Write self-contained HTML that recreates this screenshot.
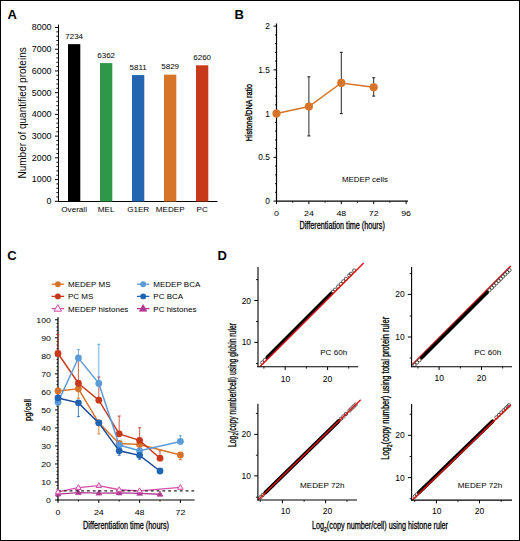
<!DOCTYPE html>
<html><head><meta charset="utf-8"><style>
html,body{margin:0;padding:0;background:#fff;}
#fig{position:relative;width:518px;height:539px;border:1px solid #000;overflow:hidden;background:#fff;}
svg{position:absolute;left:-1px;top:-1px;}
text{font-family:"Liberation Sans", sans-serif;}
</style></head><body>
<div id="fig"><svg width="520" height="541" viewBox="0 0 520 541">
<text x="7.40" y="18.50" font-size="13" text-anchor="start" fill="#000" font-weight="bold" >A</text>
<line x1="58.50" y1="24.60" x2="58.50" y2="202.00" stroke="#000" stroke-width="1.0" />
<line x1="58.00" y1="201.50" x2="217.50" y2="201.50" stroke="#000" stroke-width="1.0" />
<line x1="55.00" y1="201.30" x2="58.50" y2="201.30" stroke="#000" stroke-width="1" />
<g transform="translate(51.6 204.20) scale(1.04 1)"><text x="0" y="0" font-size="8.6" text-anchor="end">0</text></g>
<line x1="56.30" y1="196.96" x2="58.50" y2="196.96" stroke="#000" stroke-width="0.9" />
<line x1="56.30" y1="192.61" x2="58.50" y2="192.61" stroke="#000" stroke-width="0.9" />
<line x1="56.30" y1="188.27" x2="58.50" y2="188.27" stroke="#000" stroke-width="0.9" />
<line x1="56.30" y1="183.92" x2="58.50" y2="183.92" stroke="#000" stroke-width="0.9" />
<line x1="55.00" y1="179.58" x2="58.50" y2="179.58" stroke="#000" stroke-width="1" />
<g transform="translate(51.6 182.48) scale(1.04 1)"><text x="0" y="0" font-size="8.6" text-anchor="end">1000</text></g>
<line x1="56.30" y1="175.23" x2="58.50" y2="175.23" stroke="#000" stroke-width="0.9" />
<line x1="56.30" y1="170.89" x2="58.50" y2="170.89" stroke="#000" stroke-width="0.9" />
<line x1="56.30" y1="166.54" x2="58.50" y2="166.54" stroke="#000" stroke-width="0.9" />
<line x1="56.30" y1="162.19" x2="58.50" y2="162.19" stroke="#000" stroke-width="0.9" />
<line x1="55.00" y1="157.85" x2="58.50" y2="157.85" stroke="#000" stroke-width="1" />
<g transform="translate(51.6 160.75) scale(1.04 1)"><text x="0" y="0" font-size="8.6" text-anchor="end">2000</text></g>
<line x1="56.30" y1="153.50" x2="58.50" y2="153.50" stroke="#000" stroke-width="0.9" />
<line x1="56.30" y1="149.16" x2="58.50" y2="149.16" stroke="#000" stroke-width="0.9" />
<line x1="56.30" y1="144.81" x2="58.50" y2="144.81" stroke="#000" stroke-width="0.9" />
<line x1="56.30" y1="140.47" x2="58.50" y2="140.47" stroke="#000" stroke-width="0.9" />
<line x1="55.00" y1="136.12" x2="58.50" y2="136.12" stroke="#000" stroke-width="1" />
<g transform="translate(51.6 139.03) scale(1.04 1)"><text x="0" y="0" font-size="8.6" text-anchor="end">3000</text></g>
<line x1="56.30" y1="131.78" x2="58.50" y2="131.78" stroke="#000" stroke-width="0.9" />
<line x1="56.30" y1="127.44" x2="58.50" y2="127.44" stroke="#000" stroke-width="0.9" />
<line x1="56.30" y1="123.09" x2="58.50" y2="123.09" stroke="#000" stroke-width="0.9" />
<line x1="56.30" y1="118.75" x2="58.50" y2="118.75" stroke="#000" stroke-width="0.9" />
<line x1="55.00" y1="114.40" x2="58.50" y2="114.40" stroke="#000" stroke-width="1" />
<g transform="translate(51.6 117.30) scale(1.04 1)"><text x="0" y="0" font-size="8.6" text-anchor="end">4000</text></g>
<line x1="56.30" y1="110.06" x2="58.50" y2="110.06" stroke="#000" stroke-width="0.9" />
<line x1="56.30" y1="105.71" x2="58.50" y2="105.71" stroke="#000" stroke-width="0.9" />
<line x1="56.30" y1="101.37" x2="58.50" y2="101.37" stroke="#000" stroke-width="0.9" />
<line x1="56.30" y1="97.02" x2="58.50" y2="97.02" stroke="#000" stroke-width="0.9" />
<line x1="55.00" y1="92.68" x2="58.50" y2="92.68" stroke="#000" stroke-width="1" />
<g transform="translate(51.6 95.58) scale(1.04 1)"><text x="0" y="0" font-size="8.6" text-anchor="end">5000</text></g>
<line x1="56.30" y1="88.33" x2="58.50" y2="88.33" stroke="#000" stroke-width="0.9" />
<line x1="56.30" y1="83.98" x2="58.50" y2="83.98" stroke="#000" stroke-width="0.9" />
<line x1="56.30" y1="79.64" x2="58.50" y2="79.64" stroke="#000" stroke-width="0.9" />
<line x1="56.30" y1="75.30" x2="58.50" y2="75.30" stroke="#000" stroke-width="0.9" />
<line x1="55.00" y1="70.95" x2="58.50" y2="70.95" stroke="#000" stroke-width="1" />
<g transform="translate(51.6 73.85) scale(1.04 1)"><text x="0" y="0" font-size="8.6" text-anchor="end">6000</text></g>
<line x1="56.30" y1="66.60" x2="58.50" y2="66.60" stroke="#000" stroke-width="0.9" />
<line x1="56.30" y1="62.26" x2="58.50" y2="62.26" stroke="#000" stroke-width="0.9" />
<line x1="56.30" y1="57.91" x2="58.50" y2="57.91" stroke="#000" stroke-width="0.9" />
<line x1="56.30" y1="53.57" x2="58.50" y2="53.57" stroke="#000" stroke-width="0.9" />
<line x1="55.00" y1="49.22" x2="58.50" y2="49.22" stroke="#000" stroke-width="1" />
<g transform="translate(51.6 52.12) scale(1.04 1)"><text x="0" y="0" font-size="8.6" text-anchor="end">7000</text></g>
<line x1="56.30" y1="44.88" x2="58.50" y2="44.88" stroke="#000" stroke-width="0.9" />
<line x1="56.30" y1="40.53" x2="58.50" y2="40.53" stroke="#000" stroke-width="0.9" />
<line x1="56.30" y1="36.19" x2="58.50" y2="36.19" stroke="#000" stroke-width="0.9" />
<line x1="56.30" y1="31.84" x2="58.50" y2="31.84" stroke="#000" stroke-width="0.9" />
<line x1="55.00" y1="27.50" x2="58.50" y2="27.50" stroke="#000" stroke-width="1" />
<g transform="translate(51.6 30.40) scale(1.04 1)"><text x="0" y="0" font-size="8.6" text-anchor="end">8000</text></g>
<rect x="68" y="44.14" width="12.3" height="157.36" fill="#000000"/>
<text x="74.15" y="38.74" font-size="8" text-anchor="middle" fill="#000" >7234</text>
<text x="74.15" y="212.10" font-size="8.1" text-anchor="middle" fill="#000" >Overall</text>
<rect x="100" y="63.09" width="12.3" height="138.41" fill="#2f9848"/>
<text x="106.15" y="57.69" font-size="8" text-anchor="middle" fill="#000" >6362</text>
<text x="106.15" y="212.10" font-size="8.1" text-anchor="middle" fill="#000" >MEL</text>
<rect x="132" y="75.06" width="12.3" height="126.44" fill="#2467b0"/>
<text x="138.15" y="69.66" font-size="8" text-anchor="middle" fill="#000" >5811</text>
<text x="138.15" y="212.10" font-size="8.1" text-anchor="middle" fill="#000" >G1ER</text>
<rect x="164" y="74.66" width="12.3" height="126.84" fill="#d6742a"/>
<text x="170.15" y="69.26" font-size="8" text-anchor="middle" fill="#000" >5829</text>
<text x="170.15" y="212.10" font-size="8.1" text-anchor="middle" fill="#000" >MEDEP</text>
<rect x="196" y="65.30" width="12.3" height="136.20" fill="#c8391b"/>
<text x="202.15" y="59.90" font-size="8" text-anchor="middle" fill="#000" >6260</text>
<text x="202.15" y="212.10" font-size="8.1" text-anchor="middle" fill="#000" >PC</text>
<text x="25.70" y="112.90" font-size="10" text-anchor="middle" fill="#000" transform="rotate(-90 25.70 112.90)" >Number of quantified proteins</text>
<text x="234.40" y="18.50" font-size="13" text-anchor="start" fill="#000" font-weight="bold" >B</text>
<line x1="276.50" y1="23.50" x2="276.50" y2="201.70" stroke="#000" stroke-width="1.2" />
<line x1="275.90" y1="201.10" x2="408.00" y2="201.10" stroke="#000" stroke-width="1.2" />
<line x1="273.50" y1="201.10" x2="276.50" y2="201.10" stroke="#000" stroke-width="1" />
<text x="269.80" y="204.10" font-size="8.3" text-anchor="end" fill="#000" >0</text>
<line x1="275.00" y1="192.35" x2="276.50" y2="192.35" stroke="#000" stroke-width="0.9" />
<line x1="275.00" y1="183.60" x2="276.50" y2="183.60" stroke="#000" stroke-width="0.9" />
<line x1="275.00" y1="174.85" x2="276.50" y2="174.85" stroke="#000" stroke-width="0.9" />
<line x1="275.00" y1="166.10" x2="276.50" y2="166.10" stroke="#000" stroke-width="0.9" />
<line x1="273.50" y1="157.35" x2="276.50" y2="157.35" stroke="#000" stroke-width="1" />
<text x="269.80" y="160.35" font-size="8.3" text-anchor="end" fill="#000" >0.5</text>
<line x1="275.00" y1="148.60" x2="276.50" y2="148.60" stroke="#000" stroke-width="0.9" />
<line x1="275.00" y1="139.85" x2="276.50" y2="139.85" stroke="#000" stroke-width="0.9" />
<line x1="275.00" y1="131.10" x2="276.50" y2="131.10" stroke="#000" stroke-width="0.9" />
<line x1="275.00" y1="122.35" x2="276.50" y2="122.35" stroke="#000" stroke-width="0.9" />
<line x1="273.50" y1="113.60" x2="276.50" y2="113.60" stroke="#000" stroke-width="1" />
<text x="269.80" y="116.60" font-size="8.3" text-anchor="end" fill="#000" >1</text>
<line x1="275.00" y1="104.85" x2="276.50" y2="104.85" stroke="#000" stroke-width="0.9" />
<line x1="275.00" y1="96.10" x2="276.50" y2="96.10" stroke="#000" stroke-width="0.9" />
<line x1="275.00" y1="87.35" x2="276.50" y2="87.35" stroke="#000" stroke-width="0.9" />
<line x1="275.00" y1="78.60" x2="276.50" y2="78.60" stroke="#000" stroke-width="0.9" />
<line x1="273.50" y1="69.85" x2="276.50" y2="69.85" stroke="#000" stroke-width="1" />
<text x="269.80" y="72.85" font-size="8.3" text-anchor="end" fill="#000" >1.5</text>
<line x1="275.00" y1="61.10" x2="276.50" y2="61.10" stroke="#000" stroke-width="0.9" />
<line x1="275.00" y1="52.35" x2="276.50" y2="52.35" stroke="#000" stroke-width="0.9" />
<line x1="275.00" y1="43.60" x2="276.50" y2="43.60" stroke="#000" stroke-width="0.9" />
<line x1="275.00" y1="34.85" x2="276.50" y2="34.85" stroke="#000" stroke-width="0.9" />
<line x1="273.50" y1="26.10" x2="276.50" y2="26.10" stroke="#000" stroke-width="1" />
<text x="269.80" y="29.10" font-size="8.3" text-anchor="end" fill="#000" >2</text>
<line x1="276.50" y1="201.10" x2="276.50" y2="204.10" stroke="#000" stroke-width="1" />
<g transform="translate(276.50 215.50) scale(1.12 1)"><text x="0" y="0" font-size="7.9" text-anchor="middle">0</text></g>
<line x1="292.70" y1="201.10" x2="292.70" y2="202.70" stroke="#000" stroke-width="0.9" />
<line x1="308.90" y1="201.10" x2="308.90" y2="204.10" stroke="#000" stroke-width="1" />
<g transform="translate(308.90 215.50) scale(1.12 1)"><text x="0" y="0" font-size="7.9" text-anchor="middle">24</text></g>
<line x1="325.10" y1="201.10" x2="325.10" y2="202.70" stroke="#000" stroke-width="0.9" />
<line x1="341.30" y1="201.10" x2="341.30" y2="204.10" stroke="#000" stroke-width="1" />
<g transform="translate(341.30 215.50) scale(1.12 1)"><text x="0" y="0" font-size="7.9" text-anchor="middle">48</text></g>
<line x1="357.50" y1="201.10" x2="357.50" y2="202.70" stroke="#000" stroke-width="0.9" />
<line x1="373.70" y1="201.10" x2="373.70" y2="204.10" stroke="#000" stroke-width="1" />
<g transform="translate(373.70 215.50) scale(1.12 1)"><text x="0" y="0" font-size="7.9" text-anchor="middle">72</text></g>
<line x1="389.90" y1="201.10" x2="389.90" y2="202.70" stroke="#000" stroke-width="0.9" />
<line x1="406.10" y1="201.10" x2="406.10" y2="204.10" stroke="#000" stroke-width="1" />
<g transform="translate(406.10 215.50) scale(1.12 1)"><text x="0" y="0" font-size="7.9" text-anchor="middle">96</text></g>
<text x="299.50" y="229.40" font-size="10" text-anchor="start" fill="#000" textLength="85.3" lengthAdjust="spacingAndGlyphs" stroke="#000" stroke-width="0.3">Differentiation time (hours)</text>
<text x="252.00" y="141.20" font-size="9.8" text-anchor="start" fill="#000" textLength="57.2" lengthAdjust="spacingAndGlyphs" transform="rotate(-90 252.00 141.20)" stroke="#000" stroke-width="0.35">Histone/DNA ratio</text>
<text x="341.90" y="182.30" font-size="8" text-anchor="start" fill="#000" textLength="46" lengthAdjust="spacingAndGlyphs" >MEDEP cells</text>
<line x1="308.90" y1="135.91" x2="308.90" y2="76.85" stroke="#2a2a2a" stroke-width="1.0" />
<line x1="307.40" y1="135.91" x2="310.40" y2="135.91" stroke="#2a2a2a" stroke-width="1.1" />
<line x1="307.40" y1="76.85" x2="310.40" y2="76.85" stroke="#2a2a2a" stroke-width="1.1" />
<line x1="341.30" y1="113.60" x2="341.30" y2="52.35" stroke="#2a2a2a" stroke-width="1.0" />
<line x1="339.80" y1="113.60" x2="342.80" y2="113.60" stroke="#2a2a2a" stroke-width="1.1" />
<line x1="339.80" y1="52.35" x2="342.80" y2="52.35" stroke="#2a2a2a" stroke-width="1.1" />
<line x1="373.70" y1="96.10" x2="373.70" y2="77.72" stroke="#2a2a2a" stroke-width="1.0" />
<line x1="372.20" y1="96.10" x2="375.20" y2="96.10" stroke="#2a2a2a" stroke-width="1.1" />
<line x1="372.20" y1="77.72" x2="375.20" y2="77.72" stroke="#2a2a2a" stroke-width="1.1" />
<polyline fill="none" stroke="#d6742a" stroke-width="1.55" points="276.50,113.60 308.90,106.60 341.30,82.97 373.70,87.35"/>
<circle cx="276.50" cy="113.60" r="4.1" fill="#d6742a"/>
<circle cx="308.90" cy="106.60" r="4.1" fill="#d6742a"/>
<circle cx="341.30" cy="82.97" r="4.1" fill="#d6742a"/>
<circle cx="373.70" cy="87.35" r="4.1" fill="#d6742a"/>
<text x="7.30" y="259.80" font-size="13" text-anchor="start" fill="#000" font-weight="bold" >C</text>
<line x1="51.60" y1="284.20" x2="64.10" y2="284.20" stroke="#d6742a" stroke-width="1.3" />
<circle cx="57.90" cy="284.20" r="2.95" fill="#d6742a"/>
<text x="68.00" y="287.10" font-size="8" text-anchor="start" fill="#000" >MEDEP MS</text>
<line x1="51.60" y1="296.40" x2="64.10" y2="296.40" stroke="#c8391b" stroke-width="1.3" />
<circle cx="57.90" cy="296.40" r="2.95" fill="#c8391b"/>
<text x="68.00" y="299.30" font-size="8" text-anchor="start" fill="#000" >PC MS</text>
<line x1="51.60" y1="308.60" x2="64.10" y2="308.60" stroke="#d251a8" stroke-width="1.3" />
<polygon points="57.80,304.57 61.57,311.20 54.03,311.20" fill="#fbeaf5" stroke="#d251a8" stroke-width="1" stroke-linejoin="round"/>
<text x="68.00" y="311.50" font-size="8" text-anchor="start" fill="#000" >MEDEP histones</text>
<line x1="136.90" y1="284.20" x2="149.40" y2="284.20" stroke="#5b9bd8" stroke-width="1.3" />
<circle cx="143.20" cy="284.20" r="2.95" fill="#5b9bd8"/>
<text x="153.30" y="287.10" font-size="8" text-anchor="start" fill="#000" >MEDEP BCA</text>
<line x1="136.90" y1="296.40" x2="149.40" y2="296.40" stroke="#1f65b4" stroke-width="1.3" />
<circle cx="143.20" cy="296.40" r="2.95" fill="#1f65b4"/>
<text x="153.30" y="299.30" font-size="8" text-anchor="start" fill="#000" >PC BCA</text>
<line x1="136.90" y1="308.60" x2="149.40" y2="308.60" stroke="#b03a92" stroke-width="1.3" />
<polygon points="143.10,304.57 146.87,311.20 139.33,311.20" fill="#b03a92" stroke="#b03a92" stroke-width="0.7" stroke-linejoin="round"/>
<text x="153.30" y="311.50" font-size="8" text-anchor="start" fill="#000" >PC histones</text>
<line x1="58.00" y1="317.20" x2="58.00" y2="500.60" stroke="#000" stroke-width="1.2" />
<line x1="57.40" y1="500.00" x2="194.60" y2="500.00" stroke="#000" stroke-width="1.2" />
<line x1="55.00" y1="500.00" x2="58.00" y2="500.00" stroke="#000" stroke-width="1" />
<g transform="translate(50.90 502.70) scale(1.14 1)"><text x="0" y="0" font-size="7.7" text-anchor="end">0</text></g>
<line x1="56.50" y1="496.40" x2="58.00" y2="496.40" stroke="#000" stroke-width="0.9" />
<line x1="56.50" y1="492.79" x2="58.00" y2="492.79" stroke="#000" stroke-width="0.9" />
<line x1="56.50" y1="489.19" x2="58.00" y2="489.19" stroke="#000" stroke-width="0.9" />
<line x1="56.50" y1="485.58" x2="58.00" y2="485.58" stroke="#000" stroke-width="0.9" />
<line x1="55.00" y1="481.98" x2="58.00" y2="481.98" stroke="#000" stroke-width="1" />
<g transform="translate(50.90 484.68) scale(1.14 1)"><text x="0" y="0" font-size="7.7" text-anchor="end">10</text></g>
<line x1="56.50" y1="478.38" x2="58.00" y2="478.38" stroke="#000" stroke-width="0.9" />
<line x1="56.50" y1="474.77" x2="58.00" y2="474.77" stroke="#000" stroke-width="0.9" />
<line x1="56.50" y1="471.17" x2="58.00" y2="471.17" stroke="#000" stroke-width="0.9" />
<line x1="56.50" y1="467.56" x2="58.00" y2="467.56" stroke="#000" stroke-width="0.9" />
<line x1="55.00" y1="463.96" x2="58.00" y2="463.96" stroke="#000" stroke-width="1" />
<g transform="translate(50.90 466.66) scale(1.14 1)"><text x="0" y="0" font-size="7.7" text-anchor="end">20</text></g>
<line x1="56.50" y1="460.36" x2="58.00" y2="460.36" stroke="#000" stroke-width="0.9" />
<line x1="56.50" y1="456.75" x2="58.00" y2="456.75" stroke="#000" stroke-width="0.9" />
<line x1="56.50" y1="453.15" x2="58.00" y2="453.15" stroke="#000" stroke-width="0.9" />
<line x1="56.50" y1="449.54" x2="58.00" y2="449.54" stroke="#000" stroke-width="0.9" />
<line x1="55.00" y1="445.94" x2="58.00" y2="445.94" stroke="#000" stroke-width="1" />
<g transform="translate(50.90 448.64) scale(1.14 1)"><text x="0" y="0" font-size="7.7" text-anchor="end">30</text></g>
<line x1="56.50" y1="442.34" x2="58.00" y2="442.34" stroke="#000" stroke-width="0.9" />
<line x1="56.50" y1="438.73" x2="58.00" y2="438.73" stroke="#000" stroke-width="0.9" />
<line x1="56.50" y1="435.13" x2="58.00" y2="435.13" stroke="#000" stroke-width="0.9" />
<line x1="56.50" y1="431.52" x2="58.00" y2="431.52" stroke="#000" stroke-width="0.9" />
<line x1="55.00" y1="427.92" x2="58.00" y2="427.92" stroke="#000" stroke-width="1" />
<g transform="translate(50.90 430.62) scale(1.14 1)"><text x="0" y="0" font-size="7.7" text-anchor="end">40</text></g>
<line x1="56.50" y1="424.32" x2="58.00" y2="424.32" stroke="#000" stroke-width="0.9" />
<line x1="56.50" y1="420.71" x2="58.00" y2="420.71" stroke="#000" stroke-width="0.9" />
<line x1="56.50" y1="417.11" x2="58.00" y2="417.11" stroke="#000" stroke-width="0.9" />
<line x1="56.50" y1="413.50" x2="58.00" y2="413.50" stroke="#000" stroke-width="0.9" />
<line x1="55.00" y1="409.90" x2="58.00" y2="409.90" stroke="#000" stroke-width="1" />
<g transform="translate(50.90 412.60) scale(1.14 1)"><text x="0" y="0" font-size="7.7" text-anchor="end">50</text></g>
<line x1="56.50" y1="406.30" x2="58.00" y2="406.30" stroke="#000" stroke-width="0.9" />
<line x1="56.50" y1="402.69" x2="58.00" y2="402.69" stroke="#000" stroke-width="0.9" />
<line x1="56.50" y1="399.09" x2="58.00" y2="399.09" stroke="#000" stroke-width="0.9" />
<line x1="56.50" y1="395.48" x2="58.00" y2="395.48" stroke="#000" stroke-width="0.9" />
<line x1="55.00" y1="391.88" x2="58.00" y2="391.88" stroke="#000" stroke-width="1" />
<g transform="translate(50.90 394.58) scale(1.14 1)"><text x="0" y="0" font-size="7.7" text-anchor="end">60</text></g>
<line x1="56.50" y1="388.28" x2="58.00" y2="388.28" stroke="#000" stroke-width="0.9" />
<line x1="56.50" y1="384.67" x2="58.00" y2="384.67" stroke="#000" stroke-width="0.9" />
<line x1="56.50" y1="381.07" x2="58.00" y2="381.07" stroke="#000" stroke-width="0.9" />
<line x1="56.50" y1="377.46" x2="58.00" y2="377.46" stroke="#000" stroke-width="0.9" />
<line x1="55.00" y1="373.86" x2="58.00" y2="373.86" stroke="#000" stroke-width="1" />
<g transform="translate(50.90 376.56) scale(1.14 1)"><text x="0" y="0" font-size="7.7" text-anchor="end">70</text></g>
<line x1="56.50" y1="370.26" x2="58.00" y2="370.26" stroke="#000" stroke-width="0.9" />
<line x1="56.50" y1="366.65" x2="58.00" y2="366.65" stroke="#000" stroke-width="0.9" />
<line x1="56.50" y1="363.05" x2="58.00" y2="363.05" stroke="#000" stroke-width="0.9" />
<line x1="56.50" y1="359.44" x2="58.00" y2="359.44" stroke="#000" stroke-width="0.9" />
<line x1="55.00" y1="355.84" x2="58.00" y2="355.84" stroke="#000" stroke-width="1" />
<g transform="translate(50.90 358.54) scale(1.14 1)"><text x="0" y="0" font-size="7.7" text-anchor="end">80</text></g>
<line x1="56.50" y1="352.24" x2="58.00" y2="352.24" stroke="#000" stroke-width="0.9" />
<line x1="56.50" y1="348.63" x2="58.00" y2="348.63" stroke="#000" stroke-width="0.9" />
<line x1="56.50" y1="345.03" x2="58.00" y2="345.03" stroke="#000" stroke-width="0.9" />
<line x1="56.50" y1="341.42" x2="58.00" y2="341.42" stroke="#000" stroke-width="0.9" />
<line x1="55.00" y1="337.82" x2="58.00" y2="337.82" stroke="#000" stroke-width="1" />
<g transform="translate(50.90 340.52) scale(1.14 1)"><text x="0" y="0" font-size="7.7" text-anchor="end">90</text></g>
<line x1="56.50" y1="334.22" x2="58.00" y2="334.22" stroke="#000" stroke-width="0.9" />
<line x1="56.50" y1="330.61" x2="58.00" y2="330.61" stroke="#000" stroke-width="0.9" />
<line x1="56.50" y1="327.01" x2="58.00" y2="327.01" stroke="#000" stroke-width="0.9" />
<line x1="56.50" y1="323.40" x2="58.00" y2="323.40" stroke="#000" stroke-width="0.9" />
<line x1="55.00" y1="319.80" x2="58.00" y2="319.80" stroke="#000" stroke-width="1" />
<g transform="translate(50.90 322.50) scale(1.14 1)"><text x="0" y="0" font-size="7.7" text-anchor="end">100</text></g>
<line x1="58.00" y1="500.00" x2="58.00" y2="503.00" stroke="#000" stroke-width="1" />
<g transform="translate(58.00 514.60) scale(1.15 1)"><text x="0" y="0" font-size="7.7" text-anchor="middle">0</text></g>
<line x1="78.40" y1="500.00" x2="78.40" y2="501.60" stroke="#000" stroke-width="0.9" />
<line x1="98.80" y1="500.00" x2="98.80" y2="503.00" stroke="#000" stroke-width="1" />
<g transform="translate(98.80 514.60) scale(1.15 1)"><text x="0" y="0" font-size="7.7" text-anchor="middle">24</text></g>
<line x1="119.20" y1="500.00" x2="119.20" y2="501.60" stroke="#000" stroke-width="0.9" />
<line x1="139.60" y1="500.00" x2="139.60" y2="503.00" stroke="#000" stroke-width="1" />
<g transform="translate(139.60 514.60) scale(1.15 1)"><text x="0" y="0" font-size="7.7" text-anchor="middle">48</text></g>
<line x1="160.00" y1="500.00" x2="160.00" y2="501.60" stroke="#000" stroke-width="0.9" />
<line x1="180.40" y1="500.00" x2="180.40" y2="503.00" stroke="#000" stroke-width="1" />
<g transform="translate(180.40 514.60) scale(1.15 1)"><text x="0" y="0" font-size="7.7" text-anchor="middle">72</text></g>
<text x="83.10" y="528.70" font-size="10" text-anchor="start" fill="#000" textLength="85.9" lengthAdjust="spacingAndGlyphs" stroke="#000" stroke-width="0.3">Differentiation time (hours)</text>
<text x="30.60" y="421.10" font-size="9.8" text-anchor="start" fill="#000" textLength="22" lengthAdjust="spacingAndGlyphs" transform="rotate(-90 30.60 421.10)" stroke="#000" stroke-width="0.3">pg/cell</text>
<line x1="78.40" y1="388.82" x2="78.40" y2="398.37" stroke="#d6742a" stroke-width="1.1" opacity="0.75"/>
<line x1="76.90" y1="398.37" x2="79.90" y2="398.37" stroke="#d6742a" stroke-width="1.2" opacity="0.75"/>
<line x1="98.80" y1="422.87" x2="98.80" y2="433.87" stroke="#d6742a" stroke-width="1.1" opacity="0.75"/>
<line x1="97.30" y1="433.87" x2="100.30" y2="433.87" stroke="#d6742a" stroke-width="1.2" opacity="0.75"/>
<line x1="180.40" y1="454.95" x2="180.40" y2="459.64" stroke="#d6742a" stroke-width="1.1" opacity="0.75"/>
<line x1="178.90" y1="459.64" x2="181.90" y2="459.64" stroke="#d6742a" stroke-width="1.2" opacity="0.75"/>
<line x1="58.00" y1="353.50" x2="58.00" y2="334.58" stroke="#c8391b" stroke-width="1.1" opacity="0.75"/>
<line x1="56.50" y1="334.58" x2="59.50" y2="334.58" stroke="#c8391b" stroke-width="1.2" opacity="0.75"/>
<line x1="78.40" y1="383.23" x2="78.40" y2="358.54" stroke="#c8391b" stroke-width="1.1" opacity="0.75"/>
<line x1="76.90" y1="358.54" x2="79.90" y2="358.54" stroke="#c8391b" stroke-width="1.2" opacity="0.75"/>
<line x1="98.80" y1="400.17" x2="98.80" y2="376.92" stroke="#c8391b" stroke-width="1.1" opacity="0.75"/>
<line x1="97.30" y1="376.92" x2="100.30" y2="376.92" stroke="#c8391b" stroke-width="1.2" opacity="0.75"/>
<line x1="119.20" y1="433.87" x2="119.20" y2="416.03" stroke="#c8391b" stroke-width="1.1" opacity="0.75"/>
<line x1="117.70" y1="416.03" x2="120.70" y2="416.03" stroke="#c8391b" stroke-width="1.2" opacity="0.75"/>
<line x1="139.60" y1="440.35" x2="139.60" y2="427.74" stroke="#c8391b" stroke-width="1.1" opacity="0.75"/>
<line x1="138.10" y1="427.74" x2="141.10" y2="427.74" stroke="#c8391b" stroke-width="1.2" opacity="0.75"/>
<line x1="160.00" y1="458.19" x2="160.00" y2="450.81" stroke="#c8391b" stroke-width="1.1" opacity="0.75"/>
<line x1="158.50" y1="450.81" x2="161.50" y2="450.81" stroke="#c8391b" stroke-width="1.2" opacity="0.75"/>
<line x1="78.40" y1="358.00" x2="78.40" y2="349.53" stroke="#5b9bd8" stroke-width="1.1" opacity="0.75"/>
<line x1="76.90" y1="349.53" x2="79.90" y2="349.53" stroke="#5b9bd8" stroke-width="1.2" opacity="0.75"/>
<line x1="98.80" y1="383.41" x2="98.80" y2="344.31" stroke="#5b9bd8" stroke-width="1.1" opacity="0.75"/>
<line x1="97.30" y1="344.31" x2="100.30" y2="344.31" stroke="#5b9bd8" stroke-width="1.2" opacity="0.75"/>
<line x1="180.40" y1="441.44" x2="180.40" y2="435.67" stroke="#5b9bd8" stroke-width="1.1" opacity="0.75"/>
<line x1="178.90" y1="435.67" x2="181.90" y2="435.67" stroke="#5b9bd8" stroke-width="1.2" opacity="0.75"/>
<line x1="78.40" y1="402.87" x2="78.40" y2="416.57" stroke="#1f65b4" stroke-width="1.1" opacity="0.75"/>
<line x1="76.90" y1="416.57" x2="79.90" y2="416.57" stroke="#1f65b4" stroke-width="1.2" opacity="0.75"/>
<line x1="119.20" y1="450.81" x2="119.20" y2="455.31" stroke="#1f65b4" stroke-width="1.1" opacity="0.75"/>
<line x1="117.70" y1="455.31" x2="120.70" y2="455.31" stroke="#1f65b4" stroke-width="1.2" opacity="0.75"/>
<line x1="139.60" y1="455.31" x2="139.60" y2="459.27" stroke="#1f65b4" stroke-width="1.1" opacity="0.75"/>
<line x1="138.10" y1="459.27" x2="141.10" y2="459.27" stroke="#1f65b4" stroke-width="1.2" opacity="0.75"/>
<polyline fill="none" stroke="#d6742a" stroke-width="1.45" points="58.00,390.98 78.40,388.82 98.80,422.87 119.20,443.42 139.60,444.50 180.40,454.95"/>
<circle cx="58.00" cy="390.98" r="3.4" fill="#d6742a"/>
<circle cx="78.40" cy="388.82" r="3.4" fill="#d6742a"/>
<circle cx="98.80" cy="422.87" r="3.4" fill="#d6742a"/>
<circle cx="119.20" cy="443.42" r="3.4" fill="#d6742a"/>
<circle cx="139.60" cy="444.50" r="3.4" fill="#d6742a"/>
<circle cx="180.40" cy="454.95" r="3.4" fill="#d6742a"/>
<polyline fill="none" stroke="#c8391b" stroke-width="1.45" points="58.00,353.50 78.40,383.23 98.80,400.17 119.20,433.87 139.60,440.35 160.00,458.19"/>
<circle cx="58.00" cy="353.50" r="3.4" fill="#c8391b"/>
<circle cx="78.40" cy="383.23" r="3.4" fill="#c8391b"/>
<circle cx="98.80" cy="400.17" r="3.4" fill="#c8391b"/>
<circle cx="119.20" cy="433.87" r="3.4" fill="#c8391b"/>
<circle cx="139.60" cy="440.35" r="3.4" fill="#c8391b"/>
<circle cx="160.00" cy="458.19" r="3.4" fill="#c8391b"/>
<polyline fill="none" stroke="#5b9bd8" stroke-width="1.45" points="58.00,402.15 78.40,358.00 98.80,383.41 119.20,445.04 139.60,450.81 180.40,441.44"/>
<circle cx="58.00" cy="402.15" r="3.4" fill="#5b9bd8"/>
<circle cx="78.40" cy="358.00" r="3.4" fill="#5b9bd8"/>
<circle cx="98.80" cy="383.41" r="3.4" fill="#5b9bd8"/>
<circle cx="119.20" cy="445.04" r="3.4" fill="#5b9bd8"/>
<circle cx="139.60" cy="450.81" r="3.4" fill="#5b9bd8"/>
<circle cx="180.40" cy="441.44" r="3.4" fill="#5b9bd8"/>
<polyline fill="none" stroke="#1a4696" stroke-width="1.45" points="58.00,398.01 78.40,402.87 98.80,422.87 119.20,450.81 139.60,455.31 160.00,470.99"/>
<circle cx="58.00" cy="398.01" r="3.4" fill="#1f65b4"/>
<circle cx="78.40" cy="402.87" r="3.4" fill="#1f65b4"/>
<circle cx="98.80" cy="422.87" r="3.4" fill="#1f65b4"/>
<circle cx="119.20" cy="450.81" r="3.4" fill="#1f65b4"/>
<circle cx="139.60" cy="455.31" r="3.4" fill="#1f65b4"/>
<circle cx="160.00" cy="470.99" r="3.4" fill="#1f65b4"/>
<polyline fill="none" stroke="#d251a8" stroke-width="1.3" points="58.00,491.89 78.40,487.57 98.80,485.58 119.20,489.73 139.60,490.81 180.40,487.39"/>
<polyline fill="none" stroke="#b03a92" stroke-width="1.3" points="58.00,494.05 78.40,492.61 98.80,493.15 119.20,492.97 139.60,493.33 160.00,494.23"/>
<polygon points="58.00,491.02 60.84,496.01 55.16,496.01" fill="#b03a92" stroke="#b03a92" stroke-width="0.7" stroke-linejoin="round"/>
<polygon points="78.40,489.57 81.24,494.57 75.56,494.57" fill="#b03a92" stroke="#b03a92" stroke-width="0.7" stroke-linejoin="round"/>
<polygon points="98.80,490.11 101.64,495.11 95.96,495.11" fill="#b03a92" stroke="#b03a92" stroke-width="0.7" stroke-linejoin="round"/>
<polygon points="119.20,489.93 122.04,494.93 116.36,494.93" fill="#b03a92" stroke="#b03a92" stroke-width="0.7" stroke-linejoin="round"/>
<polygon points="139.60,490.29 142.44,495.29 136.76,495.29" fill="#b03a92" stroke="#b03a92" stroke-width="0.7" stroke-linejoin="round"/>
<polygon points="160.00,491.20 162.84,496.19 157.16,496.19" fill="#b03a92" stroke="#b03a92" stroke-width="0.7" stroke-linejoin="round"/>
<line x1="58" y1="490.9" x2="194.6" y2="490.9" stroke="#222" stroke-width="1.15" stroke-dasharray="2.8 3"/>
<polygon points="58.00,488.92 60.78,493.81 55.22,493.81" fill="#fbeaf5" stroke="#d251a8" stroke-width="1" stroke-linejoin="round"/>
<polygon points="78.40,484.59 81.18,489.49 75.62,489.49" fill="#fbeaf5" stroke="#d251a8" stroke-width="1" stroke-linejoin="round"/>
<polygon points="98.80,482.61 101.58,487.50 96.02,487.50" fill="#f0c4e2" stroke="#d251a8" stroke-width="1" stroke-linejoin="round"/>
<polygon points="119.20,486.75 121.98,491.65 116.42,491.65" fill="#fbeaf5" stroke="#d251a8" stroke-width="1" stroke-linejoin="round"/>
<polygon points="139.60,487.83 142.38,492.73 136.82,492.73" fill="#fbeaf5" stroke="#d251a8" stroke-width="1" stroke-linejoin="round"/>
<polygon points="180.40,484.41 183.18,489.31 177.62,489.31" fill="#fbeaf5" stroke="#d251a8" stroke-width="1" stroke-linejoin="round"/>
<text x="217.40" y="259.60" font-size="13" text-anchor="start" fill="#000" font-weight="bold" >D</text>
<line x1="267.40" y1="357.49" x2="331.20" y2="293.63" stroke="#000" stroke-width="3.9" stroke-linecap="round"/>
<circle cx="262.30" cy="362.60" r="1.7" fill="none" stroke="#3a3a3a" stroke-width="0.85"/>
<circle cx="264.80" cy="360.09" r="1.7" fill="none" stroke="#3a3a3a" stroke-width="0.85"/>
<circle cx="333.00" cy="291.83" r="1.7" fill="none" stroke="#3a3a3a" stroke-width="0.85"/>
<circle cx="335.10" cy="289.73" r="1.7" fill="none" stroke="#3a3a3a" stroke-width="0.85"/>
<circle cx="338.20" cy="286.62" r="1.7" fill="none" stroke="#3a3a3a" stroke-width="0.85"/>
<circle cx="340.80" cy="284.02" r="1.7" fill="none" stroke="#3a3a3a" stroke-width="0.85"/>
<circle cx="343.40" cy="281.42" r="1.7" fill="none" stroke="#3a3a3a" stroke-width="0.85"/>
<circle cx="346.00" cy="278.82" r="1.7" fill="none" stroke="#3a3a3a" stroke-width="0.85"/>
<circle cx="349.40" cy="275.41" r="1.7" fill="none" stroke="#3a3a3a" stroke-width="0.85"/>
<circle cx="351.00" cy="273.81" r="1.7" fill="none" stroke="#3a3a3a" stroke-width="0.85"/>
<circle cx="354.20" cy="270.61" r="1.7" fill="none" stroke="#3a3a3a" stroke-width="0.85"/>
<line x1="259.90" y1="366.80" x2="363.70" y2="262.90" stroke="#e3120f" stroke-width="1.35"/>
<line x1="258.00" y1="266.90" x2="258.00" y2="367.30" stroke="#000" stroke-width="1.1" />
<line x1="257.50" y1="366.80" x2="358.20" y2="366.80" stroke="#000" stroke-width="1.1" />
<line x1="256.00" y1="363.50" x2="258.00" y2="363.50" stroke="#000" stroke-width="0.9" />
<line x1="254.30" y1="342.40" x2="258.00" y2="342.40" stroke="#000" stroke-width="1" />
<line x1="256.00" y1="321.50" x2="258.00" y2="321.50" stroke="#000" stroke-width="0.9" />
<line x1="254.30" y1="300.50" x2="258.00" y2="300.50" stroke="#000" stroke-width="1" />
<line x1="256.00" y1="279.60" x2="258.00" y2="279.60" stroke="#000" stroke-width="0.9" />
<line x1="263.90" y1="366.80" x2="263.90" y2="368.60" stroke="#000" stroke-width="0.9" />
<line x1="285.20" y1="366.80" x2="285.20" y2="370.10" stroke="#000" stroke-width="1" />
<line x1="306.40" y1="366.80" x2="306.40" y2="368.60" stroke="#000" stroke-width="0.9" />
<line x1="327.60" y1="366.80" x2="327.60" y2="370.10" stroke="#000" stroke-width="1" />
<line x1="348.70" y1="366.80" x2="348.70" y2="368.60" stroke="#000" stroke-width="0.9" />
<text x="251.10" y="345.40" font-size="8.5" text-anchor="end" fill="#000" >10</text>
<text x="251.10" y="303.50" font-size="8.5" text-anchor="end" fill="#000" >20</text>
<text x="285.60" y="381.60" font-size="8.5" text-anchor="middle" fill="#000" >10</text>
<text x="327.60" y="381.60" font-size="8.5" text-anchor="middle" fill="#000" >20</text>
<text x="320.20" y="354.90" font-size="8.1" text-anchor="start" fill="#000" >PC 60h</text>
<line x1="412.30" y1="364.50" x2="510.90" y2="265.90" stroke="#e3120f" stroke-width="1.35"/>
<line x1="421.70" y1="357.80" x2="487.30" y2="292.20" stroke="#000" stroke-width="3.5" stroke-linecap="round"/>
<circle cx="414.50" cy="365.00" r="1.7" fill="none" stroke="#3a3a3a" stroke-width="0.85"/>
<circle cx="417.00" cy="362.50" r="1.7" fill="none" stroke="#3a3a3a" stroke-width="0.85"/>
<circle cx="419.40" cy="360.10" r="1.7" fill="none" stroke="#3a3a3a" stroke-width="0.85"/>
<circle cx="489.50" cy="290.00" r="1.7" fill="none" stroke="#3a3a3a" stroke-width="0.85"/>
<circle cx="491.80" cy="287.70" r="1.7" fill="none" stroke="#3a3a3a" stroke-width="0.85"/>
<circle cx="494.00" cy="285.50" r="1.7" fill="none" stroke="#3a3a3a" stroke-width="0.85"/>
<circle cx="496.30" cy="283.20" r="1.7" fill="none" stroke="#3a3a3a" stroke-width="0.85"/>
<circle cx="498.60" cy="280.90" r="1.7" fill="none" stroke="#3a3a3a" stroke-width="0.85"/>
<circle cx="500.80" cy="278.70" r="1.7" fill="none" stroke="#3a3a3a" stroke-width="0.85"/>
<circle cx="503.00" cy="276.50" r="1.7" fill="none" stroke="#3a3a3a" stroke-width="0.85"/>
<circle cx="505.20" cy="274.30" r="1.7" fill="none" stroke="#3a3a3a" stroke-width="0.85"/>
<circle cx="507.30" cy="272.20" r="1.7" fill="none" stroke="#3a3a3a" stroke-width="0.85"/>
<circle cx="509.40" cy="270.10" r="1.7" fill="none" stroke="#3a3a3a" stroke-width="0.85"/>
<line x1="411.60" y1="266.90" x2="411.60" y2="367.20" stroke="#000" stroke-width="1.1" />
<line x1="411.10" y1="366.70" x2="512.00" y2="366.70" stroke="#000" stroke-width="1.1" />
<line x1="409.60" y1="358.00" x2="411.60" y2="358.00" stroke="#000" stroke-width="0.9" />
<line x1="407.90" y1="337.00" x2="411.60" y2="337.00" stroke="#000" stroke-width="1" />
<line x1="409.60" y1="316.00" x2="411.60" y2="316.00" stroke="#000" stroke-width="0.9" />
<line x1="407.90" y1="294.40" x2="411.60" y2="294.40" stroke="#000" stroke-width="1" />
<line x1="409.60" y1="273.60" x2="411.60" y2="273.60" stroke="#000" stroke-width="0.9" />
<line x1="418.00" y1="366.70" x2="418.00" y2="368.50" stroke="#000" stroke-width="0.9" />
<line x1="439.10" y1="366.70" x2="439.10" y2="370.00" stroke="#000" stroke-width="1" />
<line x1="460.40" y1="366.70" x2="460.40" y2="368.50" stroke="#000" stroke-width="0.9" />
<line x1="481.50" y1="366.70" x2="481.50" y2="370.00" stroke="#000" stroke-width="1" />
<line x1="502.60" y1="366.70" x2="502.60" y2="368.50" stroke="#000" stroke-width="0.9" />
<text x="404.70" y="340.00" font-size="8.5" text-anchor="end" fill="#000" >10</text>
<text x="404.70" y="297.40" font-size="8.5" text-anchor="end" fill="#000" >20</text>
<text x="439.20" y="380.90" font-size="8.5" text-anchor="middle" fill="#000" >10</text>
<text x="481.50" y="380.90" font-size="8.5" text-anchor="middle" fill="#000" >20</text>
<text x="474.20" y="354.90" font-size="8.1" text-anchor="start" fill="#000" >PC 60h</text>
<line x1="265.30" y1="492.59" x2="338.60" y2="421.14" stroke="#000" stroke-width="3.9" stroke-linecap="round"/>
<circle cx="260.50" cy="497.26" r="1.7" fill="none" stroke="#3a3a3a" stroke-width="0.85"/>
<circle cx="262.80" cy="495.02" r="1.7" fill="none" stroke="#3a3a3a" stroke-width="0.85"/>
<circle cx="341.00" cy="418.81" r="1.7" fill="none" stroke="#3a3a3a" stroke-width="0.85"/>
<circle cx="343.50" cy="416.37" r="1.7" fill="none" stroke="#3a3a3a" stroke-width="0.85"/>
<circle cx="346.00" cy="413.93" r="1.7" fill="none" stroke="#3a3a3a" stroke-width="0.85"/>
<circle cx="349.50" cy="410.52" r="1.7" fill="none" stroke="#3a3a3a" stroke-width="0.85"/>
<circle cx="351.50" cy="408.57" r="1.7" fill="none" stroke="#3a3a3a" stroke-width="0.85"/>
<circle cx="353.60" cy="406.52" r="1.7" fill="none" stroke="#3a3a3a" stroke-width="0.85"/>
<circle cx="355.50" cy="404.67" r="1.7" fill="none" stroke="#3a3a3a" stroke-width="0.85"/>
<line x1="258.20" y1="499.70" x2="360.70" y2="399.80" stroke="#e3120f" stroke-width="1.35"/>
<line x1="257.90" y1="403.80" x2="257.90" y2="500.50" stroke="#000" stroke-width="1.1" />
<line x1="257.40" y1="500.00" x2="357.00" y2="500.00" stroke="#000" stroke-width="1.1" />
<line x1="255.90" y1="497.20" x2="257.90" y2="497.20" stroke="#000" stroke-width="0.9" />
<line x1="254.20" y1="475.90" x2="257.90" y2="475.90" stroke="#000" stroke-width="1" />
<line x1="255.90" y1="455.20" x2="257.90" y2="455.20" stroke="#000" stroke-width="0.9" />
<line x1="254.20" y1="434.40" x2="257.90" y2="434.40" stroke="#000" stroke-width="1" />
<line x1="255.90" y1="413.40" x2="257.90" y2="413.40" stroke="#000" stroke-width="0.9" />
<line x1="260.30" y1="500.00" x2="260.30" y2="501.80" stroke="#000" stroke-width="0.9" />
<line x1="282.40" y1="500.00" x2="282.40" y2="503.30" stroke="#000" stroke-width="1" />
<line x1="304.10" y1="500.00" x2="304.10" y2="501.80" stroke="#000" stroke-width="0.9" />
<line x1="325.60" y1="500.00" x2="325.60" y2="503.30" stroke="#000" stroke-width="1" />
<line x1="347.00" y1="500.00" x2="347.00" y2="501.80" stroke="#000" stroke-width="0.9" />
<text x="251.00" y="479.10" font-size="8.5" text-anchor="end" fill="#000" >10</text>
<text x="251.00" y="437.40" font-size="8.5" text-anchor="end" fill="#000" >20</text>
<text x="285.60" y="514.20" font-size="8.5" text-anchor="middle" fill="#000" >10</text>
<text x="327.60" y="514.20" font-size="8.5" text-anchor="middle" fill="#000" >20</text>
<text x="300.10" y="487.90" font-size="8.1" text-anchor="start" fill="#000" >MEDEP 72h</text>
<line x1="418.80" y1="492.60" x2="492.50" y2="421.29" stroke="#000" stroke-width="3.9" stroke-linecap="round"/>
<circle cx="414.80" cy="496.47" r="1.7" fill="none" stroke="#3a3a3a" stroke-width="0.85"/>
<circle cx="416.80" cy="494.53" r="1.7" fill="none" stroke="#3a3a3a" stroke-width="0.85"/>
<circle cx="496.50" cy="417.42" r="1.7" fill="none" stroke="#3a3a3a" stroke-width="0.85"/>
<circle cx="499.00" cy="415.00" r="1.7" fill="none" stroke="#3a3a3a" stroke-width="0.85"/>
<circle cx="501.50" cy="412.58" r="1.7" fill="none" stroke="#3a3a3a" stroke-width="0.85"/>
<circle cx="503.80" cy="410.36" r="1.7" fill="none" stroke="#3a3a3a" stroke-width="0.85"/>
<circle cx="505.80" cy="408.42" r="1.7" fill="none" stroke="#3a3a3a" stroke-width="0.85"/>
<circle cx="507.60" cy="406.68" r="1.7" fill="none" stroke="#3a3a3a" stroke-width="0.85"/>
<circle cx="509.00" cy="405.33" r="1.7" fill="none" stroke="#3a3a3a" stroke-width="0.85"/>
<line x1="412.40" y1="499.90" x2="510.80" y2="404.70" stroke="#e3120f" stroke-width="1.35"/>
<line x1="411.60" y1="404.00" x2="411.60" y2="500.60" stroke="#000" stroke-width="1.1" />
<line x1="411.10" y1="500.10" x2="512.00" y2="500.10" stroke="#000" stroke-width="1.1" />
<line x1="409.60" y1="498.70" x2="411.60" y2="498.70" stroke="#000" stroke-width="0.9" />
<line x1="407.90" y1="477.60" x2="411.60" y2="477.60" stroke="#000" stroke-width="1" />
<line x1="409.60" y1="456.50" x2="411.60" y2="456.50" stroke="#000" stroke-width="0.9" />
<line x1="407.90" y1="435.30" x2="411.60" y2="435.30" stroke="#000" stroke-width="1" />
<line x1="409.60" y1="414.20" x2="411.60" y2="414.20" stroke="#000" stroke-width="0.9" />
<line x1="414.70" y1="500.10" x2="414.70" y2="501.90" stroke="#000" stroke-width="0.9" />
<line x1="436.40" y1="500.10" x2="436.40" y2="503.40" stroke="#000" stroke-width="1" />
<line x1="458.00" y1="500.10" x2="458.00" y2="501.90" stroke="#000" stroke-width="0.9" />
<line x1="479.50" y1="500.10" x2="479.50" y2="503.40" stroke="#000" stroke-width="1" />
<line x1="501.20" y1="500.10" x2="501.20" y2="501.90" stroke="#000" stroke-width="0.9" />
<text x="404.70" y="480.60" font-size="8.5" text-anchor="end" fill="#000" >10</text>
<text x="404.70" y="438.30" font-size="8.5" text-anchor="end" fill="#000" >20</text>
<text x="436.80" y="514.10" font-size="8.5" text-anchor="middle" fill="#000" >10</text>
<text x="479.50" y="514.10" font-size="8.5" text-anchor="middle" fill="#000" >20</text>
<text x="457.80" y="487.90" font-size="8.1" text-anchor="start" fill="#000" >MEDEP 72h</text>
<text x="235.60" y="447.00" font-size="10" stroke="#000" stroke-width="0.3" transform="rotate(-90 235.60 447.00)" textLength="124" lengthAdjust="spacingAndGlyphs">Log<tspan font-size="6.80" dy="2.80">2</tspan><tspan dy="-2.80">(copy number/cell) using globin ruler</tspan></text>
<text x="389.00" y="459.80" font-size="10" stroke="#000" stroke-width="0.3" transform="rotate(-90 389.00 459.80)" textLength="143" lengthAdjust="spacingAndGlyphs">Log<tspan font-size="6.80" dy="2.80">2</tspan><tspan dy="-2.80">(copy number) using total protein ruler</tspan></text>
<text x="312.00" y="528.70" font-size="10" stroke="#000" stroke-width="0.3" textLength="136" lengthAdjust="spacingAndGlyphs">Log<tspan font-size="6.80" dy="2.80">2</tspan><tspan dy="-2.80">(copy number/cell) using histone ruler</tspan></text>
</svg></div>
</body></html>
